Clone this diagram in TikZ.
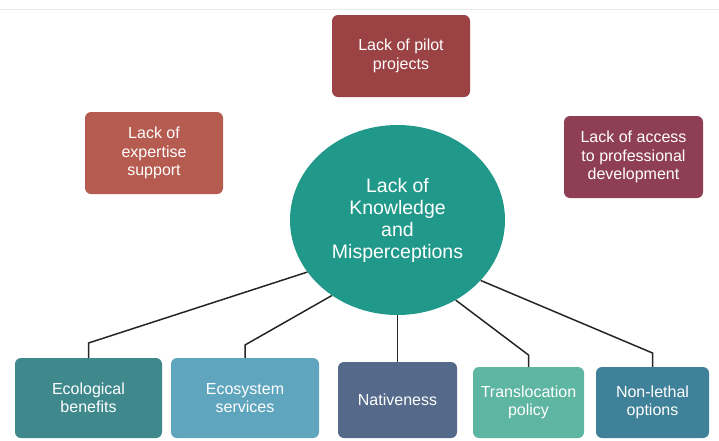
\documentclass[tikz,border=0pt]{standalone}
\usepackage{fontspec}
\setmainfont{Liberation Sans}
\usetikzlibrary{shapes.geometric}
\definecolor{pilotred}{HTML}{9A4244}
\definecolor{expertred}{HTML}{B65B50}
\definecolor{accessred}{HTML}{8F3F55}
\definecolor{knowteal}{HTML}{21998A}
\definecolor{ecoteal}{HTML}{3F898C}
\definecolor{servblue}{HTML}{5FA5BE}
\definecolor{nativeblue}{HTML}{556A8A}
\definecolor{transgreen}{HTML}{5EB5A2}
\definecolor{lethalblue}{HTML}{3F8198}
\begin{document}
\begin{tikzpicture}[x=1pt,y=-1pt,
    box/.style={rectangle,rounded corners=6pt,text=white,align=center,inner sep=2pt,font=\fontsize{16}{18.5}\selectfont},
    link/.style={line width=1.5pt,draw=black!85}]
    \useasboundingbox(0,0)rectangle(719,440);
    \draw[black!8,line width=0.8pt](0,9)--(719,9);
    \node[box,fill=pilotred,minimum width=138pt,minimum height=82pt](pilot)at(401,56){Lack of pilot\\projects};
    \node[box,fill=expertred,minimum width=138pt,minimum height=82pt](expert)at(154,153){Lack of\\expertise\\support};
    \node[box,fill=accessred,minimum width=139pt,minimum height=82pt](access)at(633.5,157){Lack of access\\to professional\\development};
    \node[ellipse,fill=knowteal,text=white,align=center,inner sep=0pt,minimum width=215pt,minimum height=190pt,font=\fontsize{19.5}{22}\selectfont](know)at(397.5,220){Lack of\\Knowledge\\and\\Misperceptions};
    \node[box,fill=ecoteal,minimum width=147pt,minimum height=80pt](eco)at(88.5,398){Ecological\\benefits};
    \node[box,fill=servblue,minimum width=148pt,minimum height=80pt](serv)at(245,398){Ecosystem\\services};
    \node[box,fill=nativeblue,minimum width=119pt,minimum height=76pt](native)at(397.5,400){Nativeness};
    \node[box,fill=transgreen,minimum width=111pt,minimum height=71pt](trans)at(528.5,402.5){Translocation\\policy};
    \node[box,fill=lethalblue,minimum width=113pt,minimum height=71pt](lethal)at(652.5,402.5){Non-lethal\\options};
    \draw[link](know.210.6)--(eco.north|-0,343)--(eco.north);
    \draw[link](know.229.6)--(serv.north|-0,345)--(serv.north);
    \draw[link](know.south)--(native.north);
    \draw[link](know.306)--(trans.north|-0,355)--(trans.north);
    \draw[link](know.324)--(lethal.north|-0,353)--(lethal.north);
\end{tikzpicture}
\end{document}
